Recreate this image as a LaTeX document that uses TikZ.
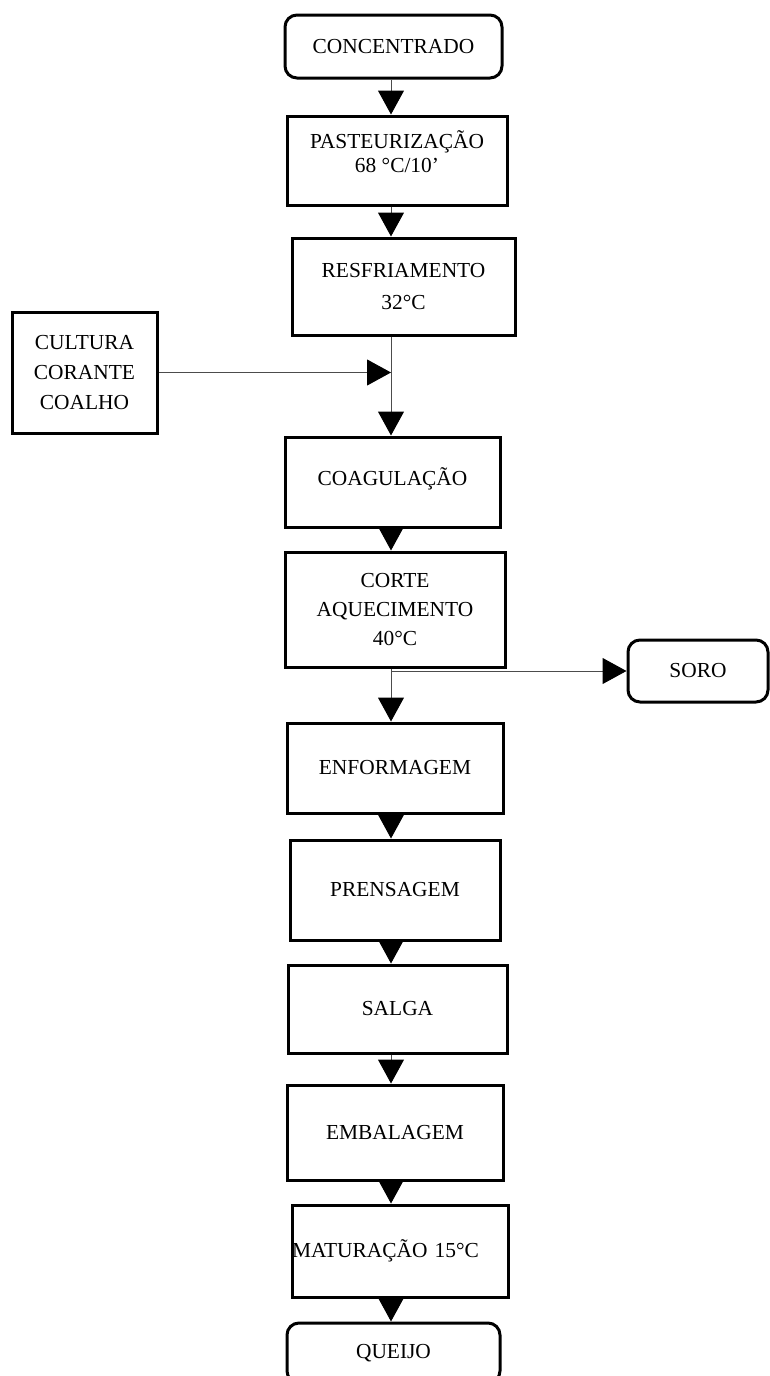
\documentclass[tikz,border=0pt]{standalone}
\usepackage{fontspec}
\setmainfont{Liberation Serif}
\usetikzlibrary{arrows.meta}

\begin{document}
\begin{tikzpicture}[x=0.5pt, y=-0.5pt,
	stepbox/.style={draw, line width=1.5pt, align=center, inner sep=0pt, font=\fontsize{10.7}{15}\selectfont},
	endbox/.style={stepbox, rounded corners=6pt},
	flow/.style={line width=0.5pt, black!70, -{Triangle[width=13pt, length=12pt, black]}}]
			\clip (0,0) rectangle (770,1376);
			\coordinate (spine) at (391,0);
			\node [endbox, minimum width=108.5pt, minimum height=31.5pt] (conc) at (393.5,46.5) {CONCENTRADO};
			\node [stepbox, minimum width=110pt, minimum height=44.5pt, font=\fontsize{10.7}{12}\selectfont] (past) at (397,160.5) {PASTEURIZAÇÃO\\68 °C/10’\\[-3pt]};
			\node [stepbox, minimum width=111.5pt, minimum height=48.5pt, font=\fontsize{10.7}{16}\selectfont] (resf) at (403.5,286.5) {RESFRIAMENTO\\32°C};
			\node [stepbox, minimum width=72.5pt, minimum height=60.5pt] (cult) at (84.5,372.5) {CULTURA\\CORANTE\\COALHO};
			\node [stepbox, minimum width=107.5pt, minimum height=45pt] (coag) at (392.5,482) {COAGULAÇÃO\\[-10pt]};
			\node [stepbox, minimum width=110pt, minimum height=57.5pt, font=\fontsize{10.7}{14.5}\selectfont] (corte) at (395,609.5) {CORTE\\AQUECIMENTO\\40°C};
			\node [endbox, minimum width=70pt, minimum height=31pt] (soro) at (698,671) {SORO};
			\node [stepbox, minimum width=108pt, minimum height=45pt] (enf) at (395,768) {ENFORMAGEM};
			\node [stepbox, minimum width=105pt, minimum height=50pt] (pren) at (395,890) {PRENSAGEM};
			\node [stepbox, minimum width=109.5pt, minimum height=44pt] (salg) at (397.5,1009) {SALGA};
			\node [stepbox, minimum width=108pt, minimum height=47.5pt] (emb) at (395,1132.5) {EMBALAGEM};
			\node [stepbox, text width=108pt, align=left, minimum height=46pt] (mat) at (400,1251) {MATURAÇÃO 15°C\\[-6pt]};
			\node [endbox, minimum width=106.5pt, minimum height=30pt] (quei) at (393.5,1353) {QUEIJO};
			\draw [flow] (conc.south -| spine) -- (past.north -| spine);
			\draw [flow] (past.south -| spine) -- (resf.north -| spine);
			\draw [flow] (resf.south -| spine) -- (coag.north -| spine);
			\draw [flow] (cult.east) -- (cult.east -| spine);
			\draw [flow] (coag.south -| spine) -- (corte.north -| spine);
			\draw [flow] (corte.south -| spine) -- (enf.north -| spine);
			\draw [flow] (soro.west -| spine) -- (soro.west);
			\draw [flow] (enf.south -| spine) -- (pren.north -| spine);
			\draw [flow] (pren.south -| spine) -- (salg.north -| spine);
			\draw [flow] (salg.south -| spine) -- (emb.north -| spine);
			\draw [flow] (emb.south -| spine) -- (mat.north -| spine);
			\draw [flow] (mat.south -| spine) -- (quei.north -| spine);
	\end{tikzpicture}
\end{document}
